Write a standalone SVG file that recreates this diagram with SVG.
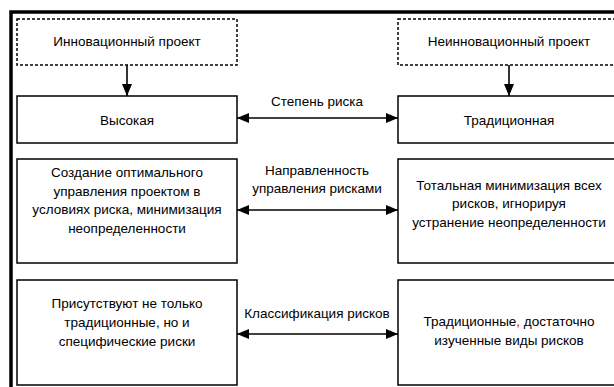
<svg xmlns="http://www.w3.org/2000/svg" width="614" height="387" viewBox="0 0 614 387">
<defs>
<style>
.t{font-family:"Liberation Sans",Arial,sans-serif;font-size:13.5px;fill:#000;text-anchor:middle}
.b{fill:#fff;stroke:#000;stroke-width:1.5}
.d{fill:#fff;stroke:#000;stroke-width:1.5;stroke-dasharray:3 2}
.c{stroke:#000;stroke-width:1.6;fill:none}
</style>
<marker id="ah" viewBox="0 0 12 10" refX="12" refY="5" markerWidth="12" markerHeight="10" markerUnits="userSpaceOnUse" orient="auto-start-reverse">
<path d="M0,0 L12,5 L0,10 z" fill="#000"/>
</marker>
</defs>
<rect width="614" height="387" fill="#fff"/>
<rect x="11" y="12" width="620" height="400" fill="none" stroke="#000" stroke-width="3.5"/>
<g id="node-innov">
<rect class="d" x="17" y="19" width="220" height="46"/>
<text class="t" x="127" y="46">Инновационный проект</text>
</g>
<g id="node-noninnov">
<rect class="d" x="398" y="19" width="222" height="46"/>
<text class="t" x="509" y="46">Неинновационный проект</text>
</g>
<g id="node-high">
<rect class="b" x="17" y="96" width="220" height="47"/>
<text class="t" x="127" y="125">Высокая</text>
</g>
<g id="node-trad">
<rect class="b" x="398" y="96" width="222" height="47"/>
<text class="t" x="509" y="125">Традиционная</text>
</g>
<g id="node-mgmt-left">
<rect class="b" x="17" y="159" width="220" height="104"/>
<text class="t" x="127" y="177">Создание оптимального</text>
<text class="t" x="127" y="196">управления проектом в</text>
<text class="t" x="127" y="214">условиях риска, минимизация</text>
<text class="t" x="127" y="233">неопределенности</text>
</g>
<g id="node-mgmt-right">
<rect class="b" x="398" y="159" width="222" height="104"/>
<text class="t" x="509" y="190">Тотальная минимизация всех</text>
<text class="t" x="509" y="208">рисков, игнорируя</text>
<text class="t" x="509" y="227">устранение неопределенности</text>
</g>
<g id="node-risks-left">
<rect class="b" x="17" y="280" width="220" height="105"/>
<text class="t" x="127" y="308">Присутствуют не только</text>
<text class="t" x="127" y="327">традиционные, но и</text>
<text class="t" x="127" y="346">специфические риски</text>
</g>
<g id="node-risks-right">
<rect class="b" x="398" y="280" width="222" height="105"/>
<text class="t" x="509" y="326">Традиционные<tspan fill="#e00000">,</tspan> достаточно</text>
<text class="t" x="509" y="345">изученные виды рисков</text>
</g>
<g id="connectors">
<line class="c" x1="127" y1="65" x2="127" y2="96" marker-end="url(#ah)"/>
<line class="c" x1="509" y1="65" x2="509" y2="96" marker-end="url(#ah)"/>
<line class="c" x1="237" y1="118" x2="398" y2="118" marker-start="url(#ah)" marker-end="url(#ah)"/>
<line class="c" x1="237" y1="210" x2="398" y2="210" marker-start="url(#ah)" marker-end="url(#ah)"/>
<line class="c" x1="237" y1="334" x2="398" y2="334" marker-start="url(#ah)" marker-end="url(#ah)"/>
<text class="t" x="317" y="106">Степень риска</text>
<text class="t" x="317" y="175">Направленность</text>
<text class="t" x="317" y="193">управления рисками</text>
<text class="t" x="317" y="318">Классификация рисков</text>
</g>
</svg>
